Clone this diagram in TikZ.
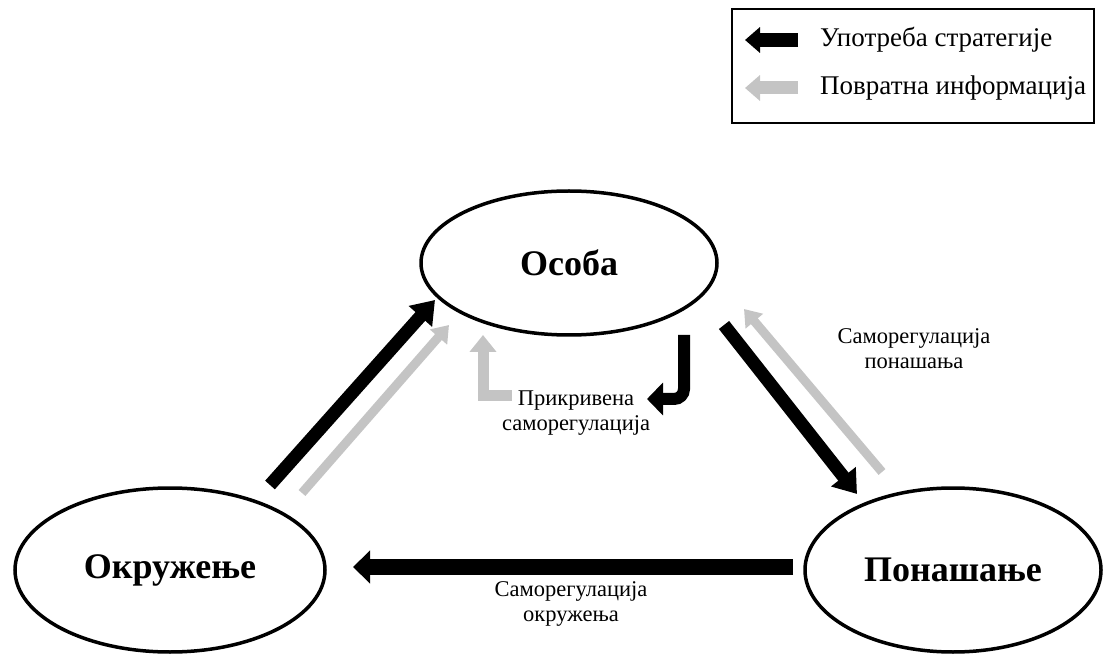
\documentclass[tikz,border=0pt]{standalone}
\usepackage{fontspec}
\setmainfont{Liberation Serif}
\usepackage{tikz}
\usetikzlibrary{shapes.geometric, arrows.meta}

\definecolor{svetlosiva}{RGB}{196,196,196}

\begin{document}
\begin{tikzpicture}
	[x=1pt, y=1pt,
	faktor/.style={ellipse, draw, line width=3.5pt, inner sep=0pt,
		font=\fontsize{36}{40}\selectfont\bfseries},
	oznaka/.style={align=center, font=\fontsize{22.5}{25}\selectfont},
	legtekst/.style={anchor=base west, inner sep=0pt, font=\fontsize{27}{30}\selectfont},
	strategija/.style={line width=13pt, -{Triangle[length=22pt,width=30pt]}},
	povratna/.style={draw=svetlosiva, line width=9pt, -{Triangle[length=16pt,width=22pt]}}]
	\useasboundingbox (0,0) rectangle (1103,654);
	\node[faktor, minimum width=296pt, minimum height=144pt] (osoba) at (569,391) {Особа};
	\node[faktor, minimum width=310pt, minimum height=164pt] (okruzenje) at (170,84) {Окружење};
	\node[faktor, minimum width=296pt, minimum height=164pt] (ponasanje) at (953,84) {Понашање};

	\coordinate (ok-os-rep) at (270,169);
	\coordinate (ok-os-vrh) at (435,354);
	\coordinate (ok-os-rep2) at (302,161);
	\coordinate (ok-os-vrh2) at (449,329);
	\draw[strategija] (ok-os-rep) -- (ok-os-vrh);
	\draw[povratna] (ok-os-rep2) -- (ok-os-vrh2);

	\coordinate (os-po-rep) at (724,329);
	\coordinate (os-po-vrh) at (857,160);
	\coordinate (po-os-rep) at (882,182);
	\coordinate (po-os-vrh) at (744,345);
	\draw[strategija] (os-po-rep) -- (os-po-vrh);
	\draw[povratna] (po-os-rep) -- (po-os-vrh);

	\coordinate (po-ok-rep) at (793,87);
	\coordinate (po-ok-vrh) at (353,87);
	\draw[strategija, line width=16pt, -{Triangle[length=17pt,width=32pt]}] (po-ok-rep) -- (po-ok-vrh);

	\coordinate (pr-crna-rep) at (684,319);
	\coordinate (pr-crna-vrh) at (647,255);
	\coordinate (pr-siva-rep) at (512,258);
	\coordinate (pr-siva-vrh) at (483,319);
	\draw[strategija, line width=12pt, rounded corners=10pt, -{Triangle[length=16pt,width=32pt]}] (pr-crna-rep) |- (pr-crna-vrh);
	\draw[povratna, line width=11pt, -{Triangle[length=17pt,width=26pt]}] (pr-siva-rep) -| (pr-siva-vrh);

	\node[oznaka] (prikrivena) at (576,241) {Прикривена\\саморегулација};
	\node[oznaka] (samoreg-pon) at (914,305) {Саморегулација\\понашања};
	\node[oznaka] (samoreg-okr) at (571,50) {Саморегулација\\окружења};

	\node[draw, line width=1.5pt, minimum width=362pt, minimum height=114pt] (legenda) at (913,588) {};
	\coordinate (leg-crna-rep) at (798,614);
	\coordinate (leg-crna-vrh) at (745,614);
	\coordinate (leg-siva-rep) at (798,566);
	\coordinate (leg-siva-vrh) at (745,566);
	\draw[strategija, line width=14pt, -{Triangle[length=15pt,width=25pt]}] (leg-crna-rep) -- (leg-crna-vrh);
	\draw[povratna, line width=13pt, -{Triangle[length=15pt,width=25pt]}] (leg-siva-rep) -- (leg-siva-vrh);
	\node[legtekst] (leg-strat) at (820,607) {Употреба стратегије};
	\node[legtekst] (leg-povr) at (820,559) {Повратна информација};
\end{tikzpicture}
\end{document}
